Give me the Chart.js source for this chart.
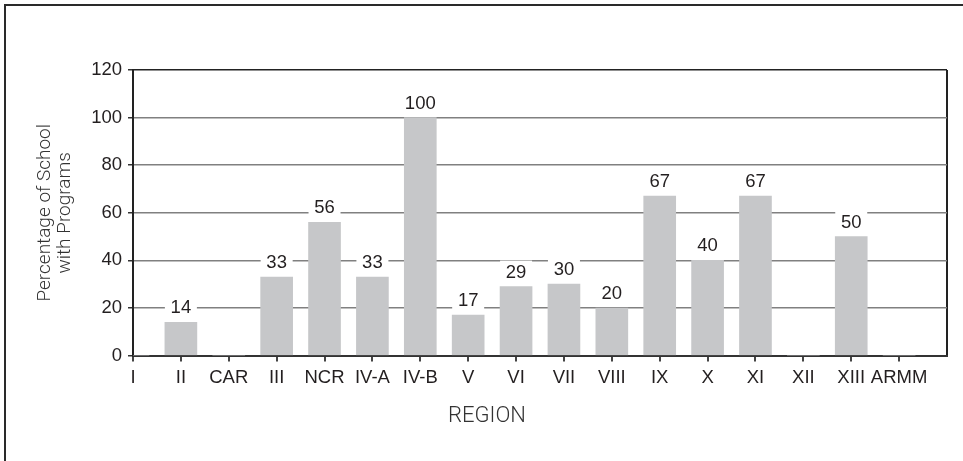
<!DOCTYPE html>
<html>
<head>
<meta charset="utf-8">
<script src="https://cdn.jsdelivr.net/npm/chart.js@4"></script>
<style>
  html, body { margin: 0; padding: 0; background: #fff; }
  #wrap { position: relative; width: 963px; height: 461px; overflow: hidden; }
  #frame { position: absolute; left: 4px; top: 4px; width: 980px; height: 480px;
           border-left: 2px solid #2a2a2a; border-top: 2px solid #2a2a2a; }
  canvas { position: absolute; left: 0; top: 0; }
</style>
</head>
<body>
<div id="wrap">
  <div id="frame"></div>
  <canvas id="chart" width="963" height="461"></canvas>
</div>
<script>
// Regions and the share of schools in each that run programs (%)
const regions = ['I', 'II', 'CAR', 'III', 'NCR', 'IV-A', 'IV-B', 'V', 'VI', 'VII',
                 'VIII', 'IX', 'X', 'XI', 'XII', 'XIII', 'ARMM'];
const percentWithPrograms = [0, 14, 0, 33, 56, 33, 100, 17, 29, 30, 20, 67, 40, 67, 0, 50, 0];
const yTicks = [0, 20, 40, 60, 80, 100, 120];
const yTitle = ['Percentage of School', 'with Programs'];
const xTitle = 'REGION';

const SANS = "'Liberation Sans', Arial, sans-serif";
const LIGHT = "Roboto, 'Liberation Sans', sans-serif";
const INK = '#231f20';
const LABEL_SIZE = 18.5;

// Value captions over each bar, on a white patch that breaks the gridline
const valueLabels = {
  id: 'valueLabels',
  afterDatasetsDraw(chart) {
    const ctx = chart.ctx;
    const meta = chart.getDatasetMeta(0);
    ctx.save();
    ctx.font = LABEL_SIZE + 'px ' + SANS;
    ctx.textAlign = 'center';
    ctx.textBaseline = 'middle';
    meta.data.forEach((bar, i) => {
      const v = percentWithPrograms[i];
      if (!v) return;
      const w = bar.width;
      ctx.fillStyle = '#fff';
      ctx.fillRect(bar.x - w / 2, bar.y - 26, w, 23);
      ctx.fillStyle = INK;
      ctx.fillText(String(v), bar.x, bar.y - 14);
    });
    ctx.restore();
  }
};

new Chart(document.getElementById('chart'), {
  type: 'bar',
  data: {
    labels: [...regions, ''],
    datasets: [{
      data: percentWithPrograms,
      backgroundColor: '#c6c7c9',
      borderWidth: 0,
      barThickness: 32
    }]
  },
  options: {
    responsive: false,
    animation: false,
    layout: { padding: { left: 27, right: 16, top: 70, bottom: 0 } },
    plugins: {
      legend: { display: false },
      tooltip: { enabled: false },
      title: {
        display: true,
        position: 'bottom',
        text: xTitle,
        color: '#333',
        font: { family: LIGHT, size: 22, weight: 300, lineHeight: 1.2 },
        padding: { top: 0, bottom: 31 }
      }
    },
    scales: {
      x: {
        offset: false,
        grid: {
          offset: false,
          drawOnChartArea: true,
          color: c => (c.index === regions.length ? '#222' : 'rgba(0,0,0,0)'),
          tickColor: c => (c.index === regions.length ? 'rgba(0,0,0,0)' : '#444'),
          tickLength: 6,
          lineWidth: 2
        },
        border: { color: '#333', width: 2 },
        ticks: {
          color: INK,
          font: { family: SANS, size: LABEL_SIZE },
          padding: 5,
          maxRotation: 0,
          autoSkip: false
        },
        afterFit: s => { s.height = 48; }
      },
      y: {
        min: 0,
        max: 120,
        afterBuildTicks: s => { s.ticks = yTicks.map(v => ({ value: v })); },
        grid: {
          color: c => (c.tick && c.tick.value === 120 ? '#222' : '#808080'),
          tickColor: '#333',
          tickLength: 5,
          lineWidth: 1.5
        },
        border: { color: '#222', width: 2 },
        ticks: {
          color: INK,
          font: { family: SANS, size: LABEL_SIZE },
          padding: 6
        },
        title: {
          display: true,
          text: yTitle,
          color: '#333',
          font: { family: LIGHT, size: 19, weight: 300, lineHeight: 1.05 },
          padding: { top: 8, bottom: 0 }
        },
        afterFit: s => { s.width = 106; }
      }
    }
  },
  plugins: [valueLabels]
});
</script>
</body>
</html>
